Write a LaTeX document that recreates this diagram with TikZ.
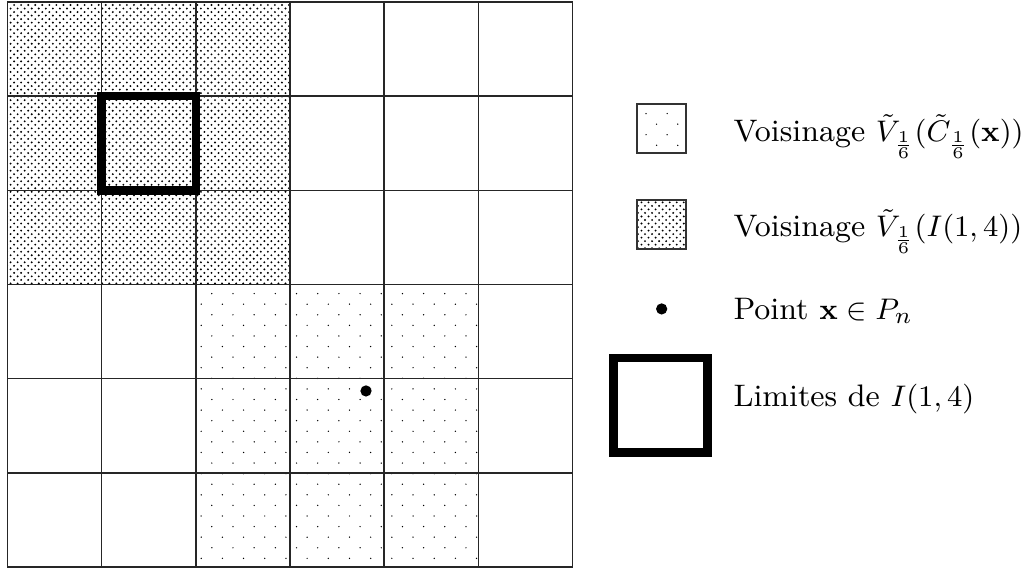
\documentclass[tikz,border=0pt]{standalone}
\usetikzlibrary{patterns}
\pgfdeclarepatternformonly{sparsedots}{\pgfqpoint{-1pt}{-1pt}}{\pgfqpoint{7.4pt}{7.4pt}}{\pgfqpoint{6.4pt}{6.4pt}}{%
  \pgfpathcircle{\pgfqpoint{0pt}{0pt}}{0.22pt}%
  \pgfpathcircle{\pgfqpoint{3.2pt}{3.2pt}}{0.22pt}%
  \pgfusepath{fill}}
\pgfdeclarepatternformonly{densedots}{\pgfqpoint{-1pt}{-1pt}}{\pgfqpoint{3.13pt}{3.13pt}}{\pgfqpoint{2.13pt}{2.13pt}}{%
  \pgfpathcircle{\pgfqpoint{0pt}{0pt}}{0.32pt}%
  \pgfpathcircle{\pgfqpoint{1.065pt}{1.065pt}}{0.32pt}%
  \pgfusepath{fill}}
\tikzset{
  gridline/.style={line width=0.45pt, draw=black!85},
  thickbox/.style={line width=2.6pt, draw=black},
  legendbox/.style={line width=0.6pt, draw=black!80},
  legtext/.style={anchor=base west, inner sep=0pt, font=\fontsize{9.4}{11.3}\selectfont},
  ptdot/.style={fill=black, draw=none}
}
\begin{document}
\begin{tikzpicture}
\useasboundingbox (-0.0796,-0.0212) rectangle (10.763,6.021);
% shaded regions
\fill[pattern=densedots] (0,3) rectangle (3,6);
\fill[pattern=sparsedots] (2,0) rectangle (5,3);
% grid
\draw[gridline] (0,0) grid (6,6);
\draw[gridline] (0,0) rectangle (6,6);
% thick boundary
\draw[thickbox] (1,4) rectangle (2,5);
% point
\fill[ptdot] (3.807,1.869) circle (1.7pt);
% legend
\filldraw[legendbox, pattern=sparsedots] (6.685,4.396) rectangle (7.205,4.917);
\node[legtext] (t1) at (7.704,4.516) {Voisinage $\tilde{V}_{\frac{1}{6}}(\tilde{C}_{\frac{1}{6}}(\mathbf{x}))$};
\filldraw[legendbox, pattern=densedots] (6.685,3.377) rectangle (7.205,3.897);
\node[legtext] (t2) at (7.704,3.507) {Voisinage $\tilde{V}_{\frac{1}{6}}(I(1,4))$};
\fill[ptdot] (6.947,2.740) circle (1.7pt);
\node[legtext] (t3) at (7.704,2.623) {Point $\mathbf{x}\in P_n$};
\draw[thickbox] (6.435,1.218) rectangle (7.435,2.219);
\node[legtext] (t4) at (7.704,1.702) {Limites de $I(1,4)$};
\end{tikzpicture}
\end{document}
